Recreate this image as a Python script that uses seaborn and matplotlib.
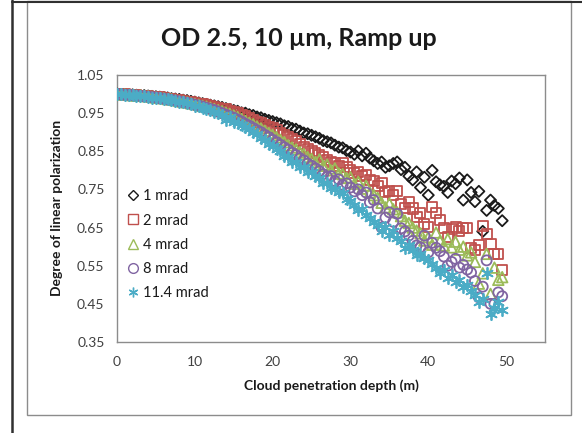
import numpy as np
import pandas as pd
import matplotlib
matplotlib.use("Agg")
import matplotlib.pyplot as plt
from matplotlib.lines import Line2D
from matplotlib.patches import Rectangle
from matplotlib.ticker import FixedLocator
import seaborn as sns

# ---------------- data ----------------
depth = np.arange(0, 50, 0.5)

series_labels = ["1 mrad", "2 mrad", "4 mrad", "8 mrad", "11.4 mrad"]

dolp_1mrad = [
    1.000, 0.999, 0.999, 0.998, 0.998, 0.997, 0.996, 0.996, 0.995, 0.994,
    0.993, 0.992, 0.991, 0.990, 0.988, 0.987, 0.986, 0.984, 0.983, 0.981,
    0.979, 0.977, 0.975, 0.973, 0.971, 0.969, 0.967, 0.965, 0.962, 0.960,
    0.957, 0.955, 0.951, 0.950, 0.946, 0.944, 0.940, 0.938, 0.934, 0.931,
    0.928, 0.925, 0.922, 0.917, 0.915, 0.910, 0.908, 0.903, 0.898, 0.896,
    0.892, 0.888, 0.884, 0.878, 0.875, 0.872, 0.866, 0.861, 0.859, 0.852,
    0.848, 0.842, 0.851, 0.838, 0.845, 0.832, 0.825, 0.818, 0.822, 0.808,
    0.812, 0.818, 0.822, 0.802, 0.808, 0.785, 0.775, 0.796, 0.755, 0.782,
    0.735, 0.800, 0.770, 0.762, 0.758, 0.742, 0.772, 0.765, 0.780, 0.722,
    0.775, 0.742, 0.718, 0.745, 0.640, 0.695, 0.722, 0.708, 0.700, 0.668,
]
dolp_2mrad = [
    1.000, 0.999, 0.999, 0.998, 0.997, 0.997, 0.996, 0.995, 0.994, 0.993,
    0.992, 0.991, 0.989, 0.988, 0.987, 0.985, 0.984, 0.982, 0.980, 0.979,
    0.977, 0.975, 0.973, 0.971, 0.968, 0.966, 0.963, 0.962, 0.960, 0.956,
    0.952, 0.950, 0.946, 0.942, 0.938, 0.932, 0.927, 0.924, 0.918, 0.914,
    0.910, 0.905, 0.898, 0.892, 0.888, 0.882, 0.878, 0.870, 0.862, 0.856,
    0.850, 0.846, 0.840, 0.834, 0.828, 0.822, 0.818, 0.812, 0.818, 0.808,
    0.802, 0.792, 0.796, 0.785, 0.788, 0.775, 0.772, 0.760, 0.768, 0.742,
    0.745, 0.735, 0.745, 0.712, 0.702, 0.718, 0.700, 0.678, 0.688, 0.660,
    0.652, 0.703, 0.688, 0.670, 0.650, 0.625, 0.645, 0.652, 0.640, 0.650,
    0.648, 0.597, 0.590, 0.605, 0.655, 0.634, 0.607, 0.582, 0.582, 0.540,
]
dolp_4mrad = [
    1.000, 0.999, 0.999, 0.998, 0.997, 0.996, 0.996, 0.995, 0.994, 0.993,
    0.991, 0.990, 0.989, 0.987, 0.986, 0.984, 0.982, 0.980, 0.978, 0.976,
    0.974, 0.972, 0.969, 0.967, 0.964, 0.961, 0.958, 0.955, 0.951, 0.948,
    0.944, 0.940, 0.935, 0.930, 0.925, 0.921, 0.915, 0.910, 0.904, 0.898,
    0.893, 0.887, 0.880, 0.874, 0.866, 0.860, 0.855, 0.848, 0.843, 0.835,
    0.830, 0.822, 0.828, 0.812, 0.815, 0.800, 0.805, 0.792, 0.790, 0.780,
    0.782, 0.765, 0.770, 0.752, 0.760, 0.742, 0.735, 0.728, 0.715, 0.703,
    0.713, 0.698, 0.690, 0.680, 0.668, 0.662, 0.650, 0.642, 0.635, 0.616,
    0.625, 0.605, 0.637, 0.615, 0.603, 0.620, 0.598, 0.613, 0.592, 0.600,
    0.577, 0.585, 0.560, 0.503, 0.530, 0.581, 0.476, 0.545, 0.513, 0.520,
]
dolp_8mrad = [
    1.000, 0.999, 0.998, 0.998, 0.997, 0.996, 0.995, 0.994, 0.993, 0.992,
    0.991, 0.989, 0.988, 0.986, 0.985, 0.983, 0.981, 0.979, 0.977, 0.975,
    0.972, 0.970, 0.967, 0.964, 0.961, 0.958, 0.954, 0.950, 0.946, 0.942,
    0.938, 0.933, 0.928, 0.922, 0.917, 0.911, 0.905, 0.900, 0.893, 0.887,
    0.880, 0.874, 0.867, 0.860, 0.854, 0.846, 0.840, 0.832, 0.826, 0.818,
    0.812, 0.805, 0.798, 0.790, 0.783, 0.785, 0.772, 0.776, 0.762, 0.766,
    0.755, 0.745, 0.750, 0.735, 0.742, 0.716, 0.722, 0.700, 0.650, 0.676,
    0.690, 0.665, 0.686, 0.648, 0.640, 0.629, 0.615, 0.603, 0.598, 0.629,
    0.585, 0.610, 0.597, 0.588, 0.574, 0.550, 0.560, 0.568, 0.545, 0.552,
    0.540, 0.532, 0.510, 0.467, 0.495, 0.564, 0.450, 0.450, 0.480, 0.470,
]
dolp_11mrad = [
    1.000, 0.999, 0.998, 0.997, 0.997, 0.996, 0.995, 0.994, 0.993, 0.991,
    0.990, 0.989, 0.987, 0.986, 0.984, 0.982, 0.980, 0.978, 0.976, 0.973,
    0.970, 0.968, 0.964, 0.961, 0.957, 0.954, 0.950, 0.945, 0.932, 0.940,
    0.928, 0.925, 0.920, 0.913, 0.908, 0.900, 0.895, 0.886, 0.880, 0.870,
    0.865, 0.855, 0.850, 0.838, 0.836, 0.822, 0.822, 0.810, 0.808, 0.795,
    0.795, 0.785, 0.780, 0.768, 0.766, 0.755, 0.752, 0.742, 0.740, 0.725,
    0.720, 0.710, 0.695, 0.700, 0.682, 0.676, 0.665, 0.658, 0.640, 0.652,
    0.630, 0.640, 0.622, 0.615, 0.596, 0.605, 0.590, 0.578, 0.582, 0.570,
    0.564, 0.555, 0.545, 0.530, 0.538, 0.518, 0.525, 0.508, 0.512, 0.495,
    0.500, 0.485, 0.472, 0.454, 0.462, 0.530, 0.424, 0.440, 0.454, 0.435,
]

x_tick_labels = ["0", "10", "20", "30", "40", "50"]
y_tick_labels = ["0.35", "0.45", "0.55", "0.65", "0.75", "0.85", "0.95", "1.05"]

all_series = [dolp_1mrad, dolp_2mrad, dolp_4mrad, dolp_8mrad, dolp_11mrad]
df = pd.concat(
    [pd.DataFrame({"depth": depth, "dolp": vals, "series": lab})
     for lab, vals in zip(series_labels, all_series)],
    ignore_index=True,
)

# ---------------- style ----------------
sns.set_theme(style="white")
plt.rcParams["font.family"] = ["Lato", "DejaVu Sans"]

colors = ["#1a1a1a", "#C0504D", "#9BBB59", "#8064A2", "#4BACC6"]
markers = ["D", "s", "^", "o", (6, 2, 0)]
msizes = [32, 52, 58, 52, 66]

fig = plt.figure(figsize=(5.82, 4.33), dpi=100)
ax = fig.add_axes([117 / 582, 1 - 342 / 433, 428 / 582, 267 / 433])

for lab, col, mk, ms in zip(series_labels, colors, markers, msizes):
    sub = df[df["series"] == lab]
    sns.scatterplot(data=sub, x="depth", y="dolp", ax=ax, marker=mk, s=ms,
                    color=col, legend=False, zorder=3)
    coll = ax.collections[-1]
    if mk == (6, 2, 0):
        coll.set_edgecolor(col)
        coll.set_facecolor(col)
        coll.set_linewidth(1.3)
    else:
        coll.set_facecolor("none")
        coll.set_edgecolor(col)
        coll.set_linewidth(1.3)

ax.set_xlim(0, 55)
ax.set_ylim(0.35, 1.05)
ax.set_xlabel("")
ax.set_ylabel("")

xt = [float(v) for v in x_tick_labels]
yt = [float(v) for v in y_tick_labels]
ax.set_xticks(xt)
ax.set_xticklabels(x_tick_labels)
ax.set_yticks(yt)
ax.set_yticklabels(y_tick_labels)
ax.xaxis.set_minor_locator(FixedLocator([v + 5 for v in xt]))
ax.yaxis.set_minor_locator(FixedLocator([v + 0.05 for v in yt[:-1]]))

axis_gray = "#8c8c8c"
for sp in ax.spines.values():
    sp.set_visible(True)
    sp.set_color(axis_gray)
    sp.set_linewidth(1.0)
ax.tick_params(which="both", direction="out", length=4, width=1.0,
               color=axis_gray, labelsize=10, labelcolor="#404040", pad=5)
ax.tick_params(axis="x", pad=6)

# legend
handles = []
for lab, col, mk in zip(series_labels, colors, markers):
    if mk == (6, 2, 0):
        h = Line2D([], [], linestyle="", marker=mk, markersize=7,
                   color=col, markeredgewidth=1.0)
    else:
        h = Line2D([], [], linestyle="", marker=mk,
                   markersize=5.5 if mk == "D" else 7,
                   markerfacecolor="none", markeredgecolor=col,
                   markeredgewidth=1.0)
    handles.append(h)
leg = ax.legend(handles, series_labels, loc="upper left",
                bbox_to_anchor=(0.0, 0.61), frameon=False, fontsize=10.5,
                handlelength=0.8, handletextpad=0.3, labelspacing=0.7,
                borderaxespad=0.3)
for t in leg.get_texts():
    t.set_color("#1a1a1a")

# titles
fig.text(299 / 582, 1 - 38 / 433, "OD 2.5, 10 µm, Ramp up",
         ha="center", va="center", fontsize=18, fontweight="bold",
         color="#1a1a1a")
fig.text(331 / 582, 1 - 386 / 433, "Cloud penetration depth (m)",
         ha="center", va="center", fontsize=10, fontweight="bold",
         color="#1a1a1a")
fig.text(57 / 582, 1 - 208 / 433, "Degree of linear polarization",
         ha="center", va="center", fontsize=10, fontweight="bold",
         rotation=90, color="#1a1a1a")

# chart frame lines
fig.add_artist(Rectangle((27 / 582, 1 - 415 / 433), (571 - 27) / 582,
                         (415 - 1) / 433, transform=fig.transFigure,
                         fill=False, edgecolor="#8c8c8c", linewidth=1.0))
fig.add_artist(Line2D([12 / 582, 12 / 582], [0, 1], transform=fig.transFigure,
                      color="#303030", linewidth=1.8))
fig.add_artist(Line2D([12 / 582, 1], [1 - 1.5 / 433, 1 - 1.5 / 433],
                      transform=fig.transFigure, color="#303030",
                      linewidth=1.5))

fig.savefig("out.png", dpi=100)
